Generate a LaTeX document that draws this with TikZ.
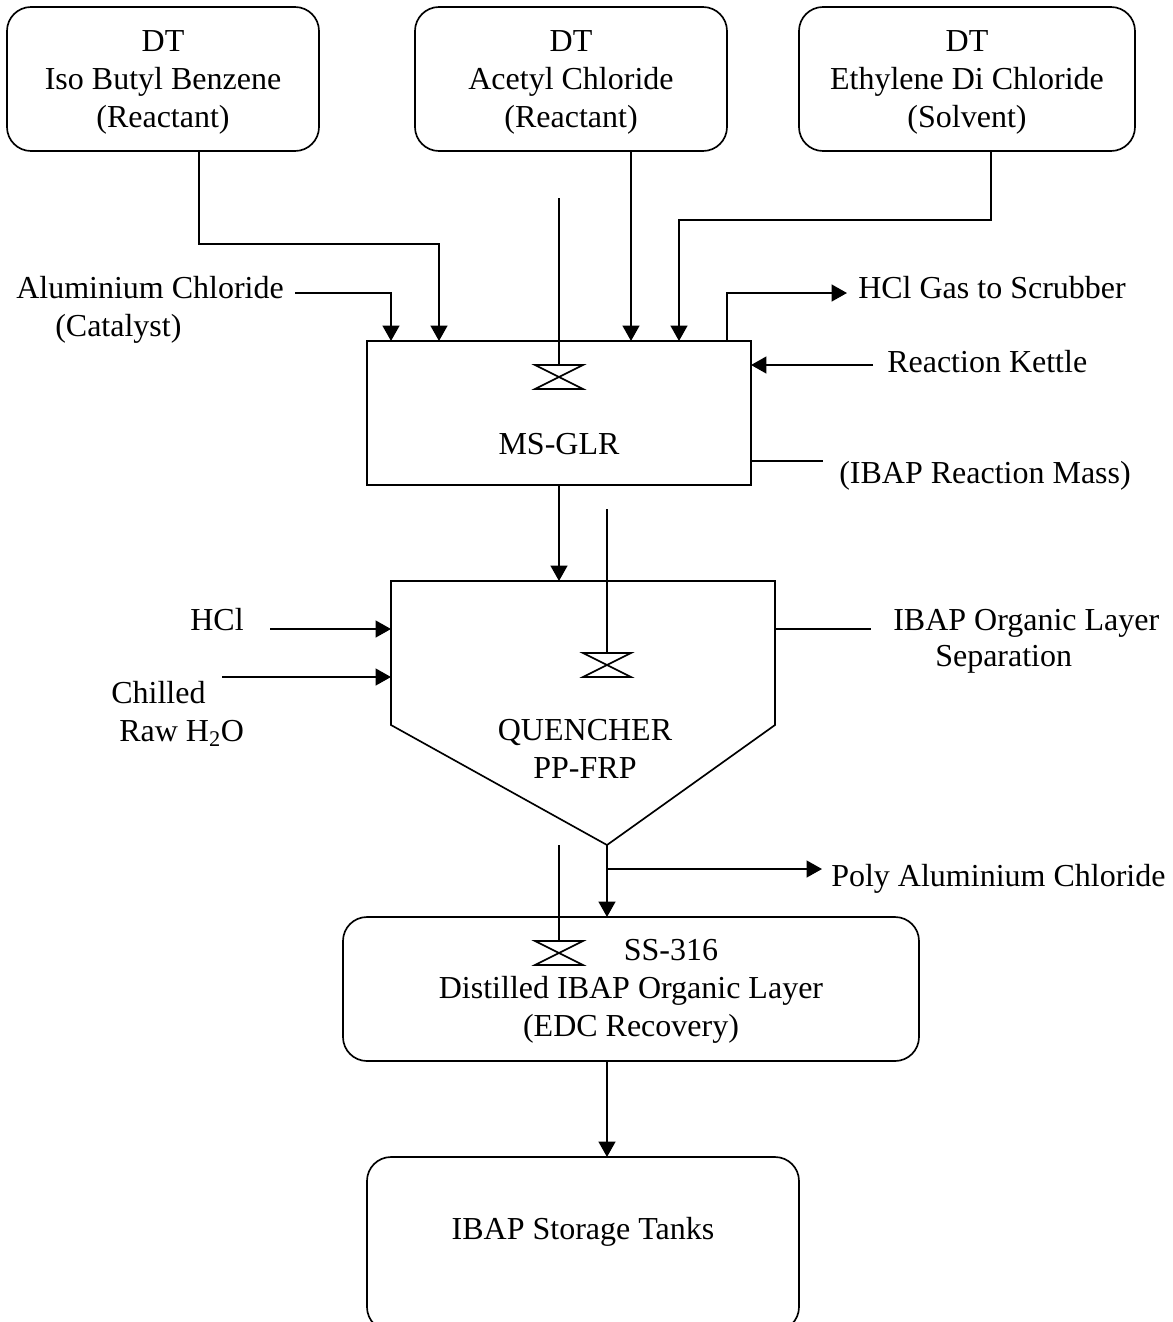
\documentclass[tikz,border=0pt]{standalone}
\usepackage{fontspec}
\setmainfont{Liberation Serif}
\usetikzlibrary{arrows.meta}
\tikzset{
  x=0.75pt,y=-0.75pt,
  line/.style={draw=black,line width=1.6pt},
  flow/.style={line,-{Triangle[length=11.5pt,width=12.5pt]}},
  rbox/.style={draw=black,line width=1.25pt,rounded corners=18pt,inner sep=0pt},
  sbox/.style={draw=black,line width=1.25pt,inner sep=0pt},
  lbl/.style={inner sep=0pt,align=center,font=\fontsize{24pt}{28.5pt}\selectfont},
  thin line/.style={draw=black,line width=1.25pt},
  valve/.style={draw=black,line width=1.25pt}
}
\newcommand{\mybox}[5]{\node[rbox,minimum width=#3*0.75pt,minimum height=#4*0.75pt] (#5) at (#1,#2) {};}
\begin{document}
\begin{tikzpicture}
\useasboundingbox (0,0) rectangle (1173,1322);
\mybox{163}{79}{312}{144}{dta}
\node[lbl] (dtat) at (163,82.5) {DT\\Iso Butyl Benzene\\(Reactant)};
\mybox{571}{79}{312}{144}{dtb}
\node[lbl] (dtbt) at (571,82.5) {DT\\Acetyl Chloride\\(Reactant)};
\mybox{967}{79}{336}{144}{dtc}
\node[lbl] (dtct) at (967,82.5) {DT\\Ethylene Di Chloride\\(Solvent)};
\node[sbox,minimum width=288pt,minimum height=108pt] (glr) at (559,413) {};
\node[lbl] (glrt) at (559,444) {MS-GLR};
\draw[line width=1.25pt] (391,581) coordinate (qa) -- (775,581) coordinate (qb) -- (775,725) coordinate (qc) -- (607,845) coordinate (qd) -- (391,725) coordinate (qe) -- cycle;
\node[lbl] (qt) at (585,749) {QUENCHER\\PP-FRP};
\mybox{631}{989}{576}{144}{ss}
\node[lbl] (sst) at (631,991.5) {\hspace*{60pt}SS-316\\Distilled IBAP Organic Layer\\(EDC Recovery)};
\mybox{583}{1244}{432}{174}{tank}
\node[lbl] (tankt) at (583,1232) {IBAP Storage Tanks};
% labels
\node[lbl,anchor=west] (al) at (16,288) {Aluminium Chloride};
\node[lbl,anchor=west] (cat) at (55,329) {(Catalyst)};
\node[lbl,anchor=west] (hclg) at (858,288) {HCl Gas to Scrubber};
\node[lbl,anchor=west] (rk) at (887,362) {Reaction Kettle};
\node[lbl,anchor=west] (rm) at (839,476) {(IBAP Reaction Mass)};
\node[lbl] (hcl) at (217,620) {HCl};
\node[lbl,anchor=west] (ch) at (111,693) {Chilled};
\node[lbl,anchor=west] (raw) at (119,733) {Raw H\textsubscript{2}O};
\node[lbl,anchor=west] (org) at (893,623) {IBAP Organic Layer};
\node[lbl,anchor=west] (sep) at (935,659) {Separation};
\node[lbl,anchor=west] (pac) at (831,879) {Poly Aluminium Chloride};
% free ends
\coordinate (a1) at (199,151); \coordinate (a2) at (199,244); \coordinate (a3) at (439,244); \coordinate (a4) at (439,341);
\draw[flow] (a1) -- (a2) -- (a3) -- (a4);
\coordinate (b1) at (631,151); \coordinate (b2) at (631,341);
\draw[flow] (b1) -- (b2);
\coordinate (c1) at (991,151); \coordinate (c2) at (991,220); \coordinate (c3) at (679,220); \coordinate (c4) at (679,341);
\draw[flow] (c1) -- (c2) -- (c3) -- (c4);
\coordinate (d1) at (295,293); \coordinate (d2) at (391,293); \coordinate (d3) at (391,341);
\draw[flow] (d1) -- (d2) -- (d3);
\coordinate (e1) at (727,341); \coordinate (e2) at (727,293); \coordinate (e3) at (847,293);
\draw[flow] (e1) -- (e2) -- (e3);
\coordinate (f1) at (873,365); \coordinate (f2) at (751,365);
\draw[flow] (f1) -- (f2);
\coordinate (g1) at (751,461); \coordinate (g2) at (823,461);
\draw[thin line] (g1) -- (g2);
\coordinate (h1) at (559,485); \coordinate (h2) at (559,581);
\draw[flow] (h1) -- (h2);
\coordinate (i1) at (270,629); \coordinate (i2) at (391,629);
\draw[flow] (i1) -- (i2);
\coordinate (j1) at (222,677); \coordinate (j2) at (391,677);
\draw[flow] (j1) -- (j2);
\coordinate (k1) at (775,629); \coordinate (k2) at (871,629);
\draw[thin line] (k1) -- (k2);
\coordinate (l1) at (607,845); \coordinate (l2) at (607,917);
\draw[flow] (l1) -- (l2);
\coordinate (m1) at (607,869); \coordinate (m2) at (822,869);
\draw[flow] (m1) -- (m2);
\coordinate (n1) at (607,1061); \coordinate (n2) at (607,1157);
\draw[flow] (n1) -- (n2);
% agitators
\coordinate (v1t) at (559,198); \coordinate (v1c) at (559,365);
\draw[thin line] (v1t) -- (v1c);
\draw[valve] (535,365) -- (583,389) -- (535,389) -- (583,365) -- cycle;
\coordinate (v2t) at (607,509); \coordinate (v2c) at (607,653);
\draw[thin line] (v2t) -- (v2c);
\draw[valve] (583,653) -- (631,677) -- (583,677) -- (631,653) -- cycle;
\coordinate (v3t) at (559,845); \coordinate (v3c) at (559,941);
\draw[thin line] (v3t) -- (v3c);
\draw[valve] (535,941) -- (583,965) -- (535,965) -- (583,941) -- cycle;
\end{tikzpicture}
\end{document}
